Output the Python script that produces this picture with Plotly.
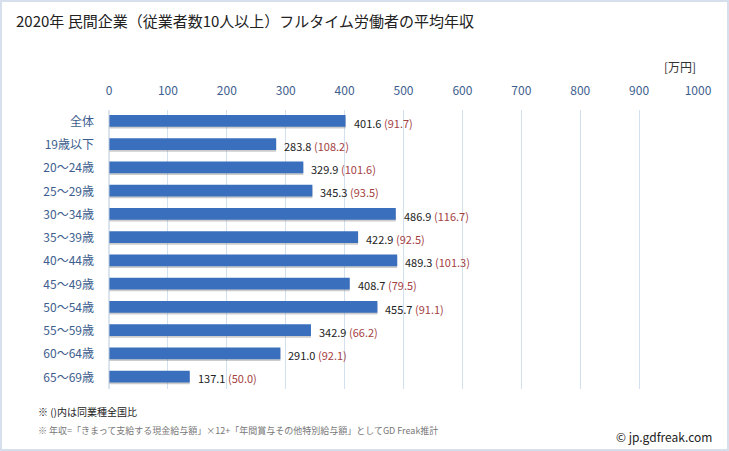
import plotly.graph_objects as go

categories = ["全体", "19歳以下", "20〜24歳", "25〜29歳", "30〜34歳", "35〜39歳",
              "40〜44歳", "45〜49歳", "50〜54歳", "55〜59歳", "60〜64歳", "65〜69歳"]
values = [401.6, 283.8, 329.9, 345.3, 486.9, 422.9, 489.3, 408.7, 455.7, 342.9, 291.0, 137.1]
ratios = [91.7, 108.2, 101.6, 93.5, 116.7, 92.5, 101.3, 79.5, 91.1, 66.2, 92.1, 50.0]
tick_vals = [0, 100, 200, 300, 400, 500, 600, 700, 800, 900, 1000]

W, H = 729, 451
ml, mr, mt, mb = 109, 31, 110, 62
pw, ph = W - ml - mr, H - mt - mb

font = "Noto Sans CJK JP, sans-serif"
labels = [f"{v:.1f} <span style='color:#a4413f'>({r:.1f})</span>" for v, r in zip(values, ratios)]

fig = go.Figure()
# shadow
fig.add_trace(go.Bar(
    y=categories, x=values, orientation="h",
    marker=dict(color="rgba(110,110,110,0.35)", line=dict(width=0)),
    width=0.5, offset=-0.2, hoverinfo="skip", showlegend=False,
))
fig.add_trace(go.Bar(
    y=categories, x=values, orientation="h",
    marker=dict(color="#3a6fbe", line=dict(width=0)),
    width=0.5, offset=-0.28,
    showlegend=False,
))

for c, v, t in zip(categories, values, labels):
    fig.add_annotation(x=v, y=c, text=t, xref="x", yref="y", xanchor="left",
                       yanchor="middle", xshift=6, yshift=-1, showarrow=False,
                       font=dict(size=11, color="#222222", family=font))

fig.update_layout(
    width=W, height=H,
    margin=dict(l=ml, r=mr, t=mt, b=mb, pad=0),
    paper_bgcolor="white", plot_bgcolor="white",
    barmode="overlay",
    font=dict(family=font),
    xaxis=dict(
        range=[0, 1000], side="top", tickvals=tick_vals,
        tickfont=dict(size=12, color="#3d5e8e", family=font),
        showgrid=True, gridcolor="#d3e0ee", gridwidth=1, zeroline=False,
        showline=False, ticks="", ticklabelstandoff=12,
    ),
    yaxis=dict(
        autorange="reversed", tickfont=dict(size=12, color="#3d5e8e", family=font),
        showgrid=False, zeroline=False, showline=False, ticks="", ticklabelstandoff=14,
    ),
    title=dict(text="2020年 民間企業（従業者数10人以上）フルタイム労働者の平均年収",
               x=16 / W, xanchor="left", y=1 - 22 / H, yanchor="middle",
               font=dict(size=15, color="#222222", family=font)),
)

fig.add_shape(type="line", xref="paper", yref="paper", x0=0, x1=0, y0=0, y1=1,
              line=dict(color="#b8c8da", width=1))

def px(x):
    return (x - ml) / pw

def py(y):
    return (H - mb - y) / ph

fig.add_shape(type="rect", xref="paper", yref="paper",
              x0=px(1), x1=px(W - 1), y0=py(H - 1), y1=py(1),
              line=dict(color="#d6e0ec", width=2), layer="below")

fig.add_annotation(text="[万円]", xref="paper", yref="paper", x=px(698), y=py(66),
                   xanchor="right", yanchor="middle", showarrow=False,
                   font=dict(size=12, color="#333333", family=font))
fig.add_annotation(text="※ ()内は同業種全国比", xref="paper", yref="paper",
                   x=px(36), y=py(411), xanchor="left", yanchor="middle", showarrow=False,
                   font=dict(size=10, color="#222222", family=font))
fig.add_annotation(text="※ 年収=「きまって支給する現金給与額」×12+「年間賞与その他特別給与額」としてGD Freak推計",
                   xref="paper", yref="paper", x=px(36), y=py(430), xanchor="left",
                   yanchor="middle", showarrow=False,
                   font=dict(size=9, color="#777777", family=font))
fig.add_annotation(text="© jp.gdfreak.com", xref="paper", yref="paper", x=px(714), y=py(436),
                   xanchor="right", yanchor="middle", showarrow=False,
                   font=dict(size=12, color="#222222", family=font))

fig.write_html("out.html", config={"displayModeBar": False},
               post_script="document.body.style.margin='0';document.body.style.overflow='hidden';")
